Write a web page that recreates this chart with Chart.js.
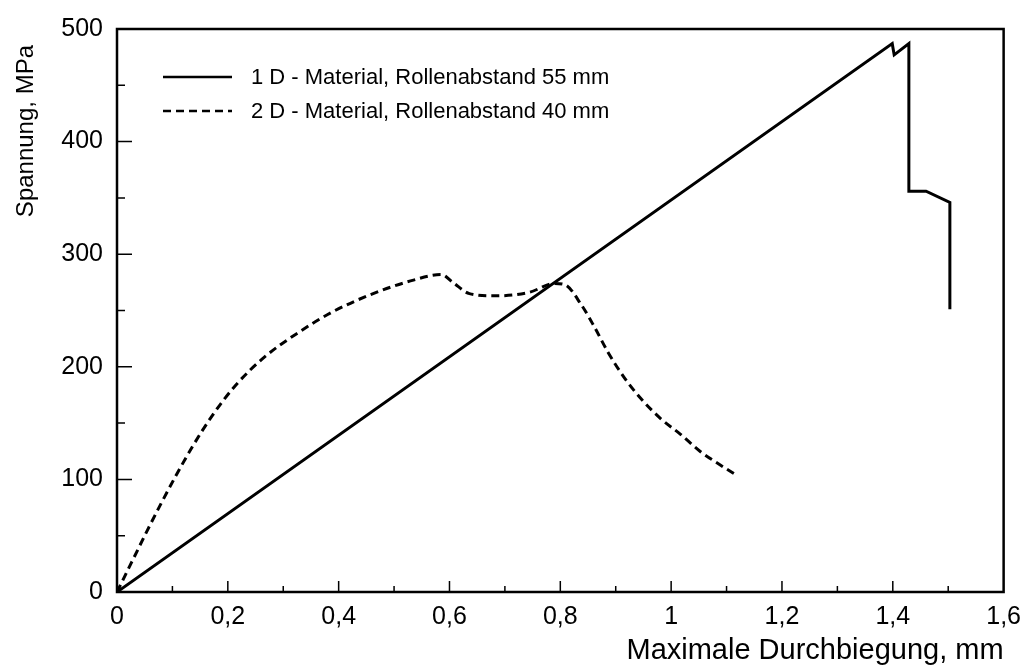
<!DOCTYPE html>
<html lang="de">
<head>
  <meta charset="UTF-8" />
  <title>Spannung - Durchbiegung</title>
  <script src="https://cdn.jsdelivr.net/npm/chart.js"></script>
  <style>
    html, body {
      margin: 0;
      padding: 0;
      background: #fff;
    }
    #wrap {
      width: 1031px;
      height: 668px;
    }
  </style>
</head>
<body>
  <div id="wrap"><canvas id="chart"></canvas></div>

  <script>
    // 1D material, roller spacing 55 mm
    const durchbiegung1D = [0, 1.399, 1.4025, 1.429, 1.429, 1.46, 1.503, 1.503];
    const spannung1D     = [0, 487, 477, 487, 356, 356, 346, 251];

    // 2D material, roller spacing 40 mm
    const durchbiegung2D = [0, 0.03, 0.055, 0.08, 0.106, 0.136, 0.171, 0.213, 0.267, 0.326,
                            0.386, 0.457, 0.535, 0.585, 0.606, 0.636, 0.683, 0.743, 0.790, 0.808,
                            0.838, 0.862, 0.886, 0.916, 0.945, 0.981, 1.017, 1.052, 1.088, 1.117];
    const spannung2D     = [0, 30, 55, 79, 103, 129, 156, 183, 209, 230,
                            248, 264, 277, 282, 275, 265, 263, 266, 274, 273,
                            255, 235, 213, 190, 172, 154, 140, 125, 113, 104];

    const legendLabels = [
      "1 D - Material, Rollenabstand 55 mm",
      "2 D - Material, Rollenabstand 40 mm"
    ];
    const yTitle = "Spannung, MPa";
    const xTitle = "Maximale Durchbiegung, mm";

    const FONT = "'Liberation Sans', Arial, Helvetica, sans-serif";

    const toPoints = (xs, ys) => xs.map((x, i) => ({ x: x, y: ys[i] }));
    const comma = v => String(Math.round(v * 10) / 10).replace(".", ",");

    // frame around the plot area plus inward tick marks
    const frameTicks = {
      id: "frameTicks",
      afterDatasetsDraw(chart) {
        const { ctx, chartArea: a, scales: { x, y } } = chart;
        ctx.save();
        ctx.strokeStyle = "#000";
        ctx.lineWidth = 2.5;
        ctx.strokeRect(a.left, a.top, a.right - a.left, a.bottom - a.top);

        ctx.lineWidth = 1.5;
        ctx.beginPath();
        for (let i = 1; i < 16; i++) {
          const px = x.getPixelForValue(i / 10);
          const len = i % 2 === 0 ? 11 : 6;
          ctx.moveTo(px, a.bottom);
          ctx.lineTo(px, a.bottom - len);
        }
        for (let i = 1; i < 10; i++) {
          const py = y.getPixelForValue(i * 50);
          const len = i % 2 === 0 ? 15 : 8;
          ctx.moveTo(a.left, py);
          ctx.lineTo(a.left + len, py);
        }
        ctx.stroke();

        // y axis title, rotated, ending a little below the frame top
        ctx.translate(26, a.top + 16);
        ctx.rotate(-Math.PI / 2);
        ctx.font = "24px " + FONT;
        ctx.fillStyle = "#000";
        ctx.textAlign = "right";
        ctx.textBaseline = "middle";
        ctx.fillText(yTitle, 0, 0);
        ctx.restore();
      }
    };

    // legend drawn inside the plot, upper left
    const innerLegend = {
      id: "innerLegend",
      afterDatasetsDraw(chart) {
        const { ctx, chartArea: a } = chart;
        const rows = [77, 111];
        ctx.save();
        ctx.font = "22px " + FONT;
        ctx.textBaseline = "middle";
        ctx.fillStyle = "#000";
        chart.data.datasets.forEach((ds, i) => {
          const yy = rows[i];
          ctx.beginPath();
          ctx.strokeStyle = ds.borderColor;
          ctx.lineWidth = 2.5;
          ctx.setLineDash(ds.borderDash || []);
          ctx.moveTo(a.left + 46, yy);
          ctx.lineTo(a.left + 115, yy);
          ctx.stroke();
          ctx.setLineDash([]);
          ctx.fillText(ds.label, a.left + 134, yy + 1);
        });
        ctx.restore();
      }
    };

    new Chart(document.getElementById("chart"), {
      type: "line",
      data: {
        datasets: [
          {
            label: legendLabels[0],
            data: toPoints(durchbiegung1D, spannung1D),
            borderColor: "#000",
            borderWidth: 3,
            pointRadius: 0,
            tension: 0,
            fill: false
          },
          {
            label: legendLabels[1],
            data: toPoints(durchbiegung2D, spannung2D),
            borderColor: "#000",
            borderWidth: 3,
            borderDash: [8, 5],
            pointRadius: 0,
            cubicInterpolationMode: "monotone",
            fill: false
          }
        ]
      },
      options: {
        responsive: true,
        maintainAspectRatio: false,
        animation: false,
        layout: { padding: { top: 24, right: 18, left: 0, bottom: 0 } },
        plugins: {
          legend: { display: false },
          tooltip: { enabled: false }
        },
        scales: {
          x: {
            type: "linear",
            min: 0,
            max: 1.6,
            grid: { display: false, drawTicks: false },
            border: { display: false },
            ticks: {
              stepSize: 0.2,
              padding: 10,
              color: "#000",
              font: { family: FONT, size: 25 },
              callback: v => comma(v)
            },
            title: {
              display: true,
              text: xTitle,
              align: "end",
              color: "#000",
              font: { family: FONT, size: 29, lineHeight: 1 },
              padding: { top: 0, bottom: 3 }
            },
            afterFit: s => { s.height = 76; }
          },
          y: {
            min: 0,
            max: 500,
            grid: { display: false, drawTicks: false },
            border: { display: false },
            ticks: {
              stepSize: 100,
              padding: 14,
              color: "#000",
              font: { family: FONT, size: 25 },
              callback: v => comma(v)
            },
            title: { display: false },
            afterFit: s => { s.width = 117; }
          }
        }
      },
      plugins: [frameTicks, innerLegend]
    });
  </script>
</body>
</html>
